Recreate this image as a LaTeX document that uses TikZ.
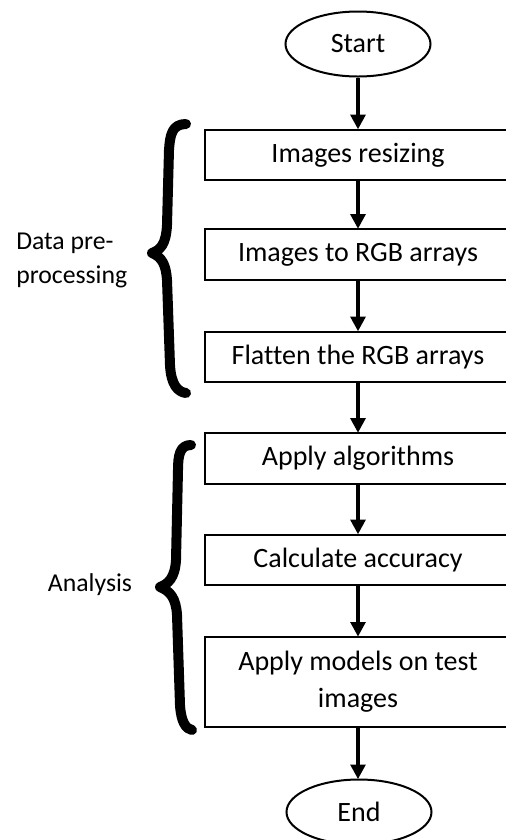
\documentclass[tikz,border=0pt]{standalone}
\usepackage{fontspec}
\setmainfont{Carlito}[Ligatures={NoCommon}]
\usetikzlibrary{shapes.geometric,arrows.meta}
\begin{document}
\begin{tikzpicture}[x=0.75pt,y=-0.75pt,
  stepbox/.style={draw,line width=1.5pt,minimum width=229.5pt,minimum height=38pt,inner sep=0pt,align=center,font=\fontsize{21}{27.75}\selectfont},
  term/.style={draw,ellipse,line width=1.5pt,minimum width=108.75pt,minimum height=48.75pt,inner sep=0pt,font=\fontsize{21}{25}\selectfont},
  flow/.style={line width=3pt,-{Triangle[length=11pt,width=11pt]},shorten >=-0.5pt},
  brace/.style={line width=7.5pt,line cap=round,line join=round},
  lab/.style={font=\fontsize{19.3}{25.5}\selectfont,align=left,inner sep=0pt}]
\useasboundingbox (0,0) rectangle (506,840);
\clip (0,0) rectangle (506,840);
\node[term] (start) at (358,44) {Start};
\node[stepbox] (b1) at (358,155) {Images resizing};
\node[stepbox] (b2) at (358,254.5) {Images to RGB arrays};
\node[stepbox] (b3) at (358,357) {Flatten the RGB arrays};
\node[stepbox] (b4) at (358,458.5) {Apply algorithms};
\node[stepbox] (b5) at (358,560) {Calculate accuracy};
\node[stepbox,minimum height=67.5pt] (b6) at (358,682) {Apply models on test\\images};
\node[term] (end) at (359,812) {End};
\draw[flow] (start) -- (b1);
\draw[flow] (b1) -- (b2);
\draw[flow] (b2) -- (b3);
\draw[flow] (b3) -- (b4);
\draw[flow] (b4) -- (b5);
\draw[flow] (b5) -- (b6);
\draw[flow] (b6) -- (b6 |- end.north);
\draw[brace] (186,124) .. controls (172,124) and (170,135) .. (169,150) -- (167,225) .. controls (166,245) and (160,250) .. (152,253) .. controls (162,257) and (166,265) .. (167,280) -- (170,365) .. controls (171,385) and (178,392) .. (186,393);
\draw[brace] (191,445) .. controls (180,445) and (178,455) .. (178,470) -- (176,560) .. controls (175,578) and (168,584) .. (160,587) .. controls (170,591) and (176,598) .. (177,615) -- (180,705) .. controls (181,722) and (186,729) .. (192,730);
\node[lab,anchor=west] (l1) at (16,260) {Data pre-\\processing};
\node[lab] (l2) at (90,585) {Analysis};
\end{tikzpicture}
\end{document}
